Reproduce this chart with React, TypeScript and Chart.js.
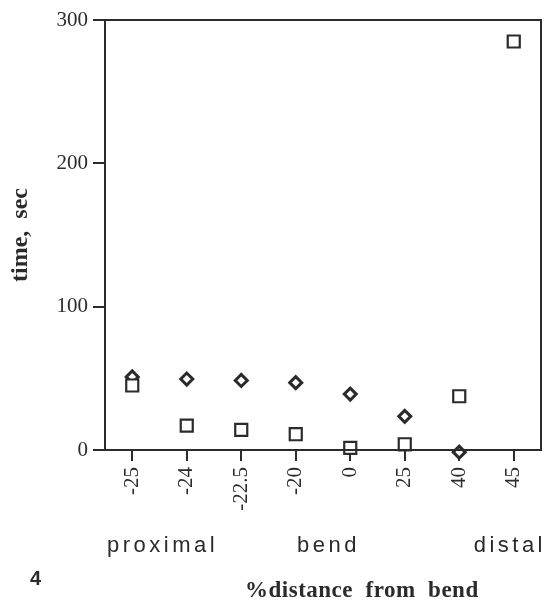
import React, { useEffect, useRef } from "react";
import { Chart, registerables } from "chart.js";

Chart.register(...registerables);

const categories = ["-25", "-24", "-22.5", "-20", "0", "25", "40", "45"];
const diamondValues = [51, 49.5, 48.5, 47, 39, 23.5, -1.5, null];
const squareValues = [45, 17, 14, 11, 1.5, 4, 37.5, 285];
const yTicks = [0, 100, 200, 300];
const regionLabels = ["proximal", "bend", "distal"];
const xTitle = "%distance  from  bend";
const yTitle = "time,  sec";
const panelLabel = "4";

const INK = "#2b2b2b";

const framePlugin = {
  id: "frame",
  afterDatasetsDraw(chart: any) {
    const { ctx, chartArea } = chart;
    const { left, top, right, bottom } = chartArea;
    ctx.save();
    ctx.strokeStyle = INK;
    ctx.lineWidth = 2;
    ctx.strokeRect(left, top, right - left, bottom - top);
    ctx.restore();
  },
  afterDraw(chart: any) {
    const { ctx, chartArea } = chart;
    const { left, right } = chartArea;
    ctx.save();
    ctx.fillStyle = INK;
    ctx.textBaseline = "alphabetic";
    // region labels
    ctx.font = "22px 'Liberation Sans', Arial, sans-serif";
    (ctx as any).letterSpacing = "3.5px";
    ctx.textAlign = "left";
    ctx.fillText(regionLabels[0], left + 2, 552);
    ctx.fillText(regionLabels[1], 297, 552);
    ctx.textAlign = "right";
    ctx.fillText(regionLabels[2], right + 5, 552);
    // panel label
    (ctx as any).letterSpacing = "0px";
    ctx.textAlign = "left";
    ctx.font = "bold 20px 'Liberation Sans', Arial, sans-serif";
    ctx.fillText(panelLabel, 30, 585);
    // x title
    ctx.font = "bold 23px 'Liberation Serif', 'Times New Roman', serif";
    (ctx as any).letterSpacing = "0.5px";
    ctx.fillText(xTitle, 245, 597);
    ctx.restore();
  },
};

export default function App() {
  const canvasRef = useRef<HTMLCanvasElement | null>(null);

  useEffect(() => {
    const canvas = canvasRef.current;
    if (!canvas) return;
    const chart = new Chart(canvas, {
      type: "line",
      data: {
        labels: categories,
        datasets: [
          {
            label: "squares",
            data: squareValues,
            showLine: false,
            pointStyle: "rect",
            pointRadius: 8.5,
            pointHoverRadius: 8.5,
            pointBorderWidth: 2.2,
            borderColor: INK,
            backgroundColor: "#ffffff",
            pointBackgroundColor: "#ffffff",
            pointBorderColor: INK,
            clip: false as any,
          },
          {
            label: "diamonds",
            data: diamondValues,
            showLine: false,
            pointStyle: "rectRot",
            pointRadius: 6,
            pointHoverRadius: 6,
            pointBorderWidth: 3,
            borderColor: INK,
            backgroundColor: "#ffffff",
            pointBackgroundColor: "#ffffff",
            pointBorderColor: INK,
            clip: false as any,
          },
        ],
      },
      options: {
        responsive: false,
        animation: false,
        devicePixelRatio: 1,
        layout: { padding: { left: 0, top: 20, right: 15, bottom: 0 } },
        plugins: {
          legend: { display: false },
          tooltip: { enabled: false },
        },
        scales: {
          x: {
            type: "category",
            offset: true,
            border: { display: false },
            grid: {
              display: true,
              offset: false,
              drawOnChartArea: false,
              drawTicks: true,
              tickLength: 11,
              color: INK,
              lineWidth: 2,
            },
            ticks: {
              autoSkip: false,
              minRotation: 90,
              maxRotation: 90,
              padding: 6,
              color: INK,
              font: { family: "'Liberation Serif', 'Times New Roman', serif", size: 21 },
            },
            afterFit: (scale: any) => {
              scale.height = 151;
            },
          },
          y: {
            min: 0,
            max: 300,
            border: { display: false },
            grid: {
              display: true,
              drawOnChartArea: false,
              drawTicks: true,
              tickLength: 12,
              color: INK,
              lineWidth: 2,
            },
            afterBuildTicks: (scale: any) => {
              scale.ticks = yTicks.map((v) => ({ value: v }));
            },
            ticks: {
              padding: 5,
              color: INK,
              font: { family: "'Liberation Serif', 'Times New Roman', serif", size: 21 },
            },
            title: {
              display: true,
              text: yTitle,
              color: INK,
              padding: { top: 6, bottom: 0 },
              font: { family: "'Liberation Serif', 'Times New Roman', serif", size: 24, weight: "bold" },
            },
            afterFit: (scale: any) => {
              scale.width = 105;
            },
          },
        },
      },
      plugins: [framePlugin],
    });
    return () => chart.destroy();
  }, []);

  return (
    <div
      style={{
        position: "fixed",
        left: 0,
        top: 0,
        width: 556,
        height: 601,
        background: "#ffffff",
      }}
    >
      <canvas ref={canvasRef} width={556} height={601} style={{ display: "block" }} />
    </div>
  );
}
